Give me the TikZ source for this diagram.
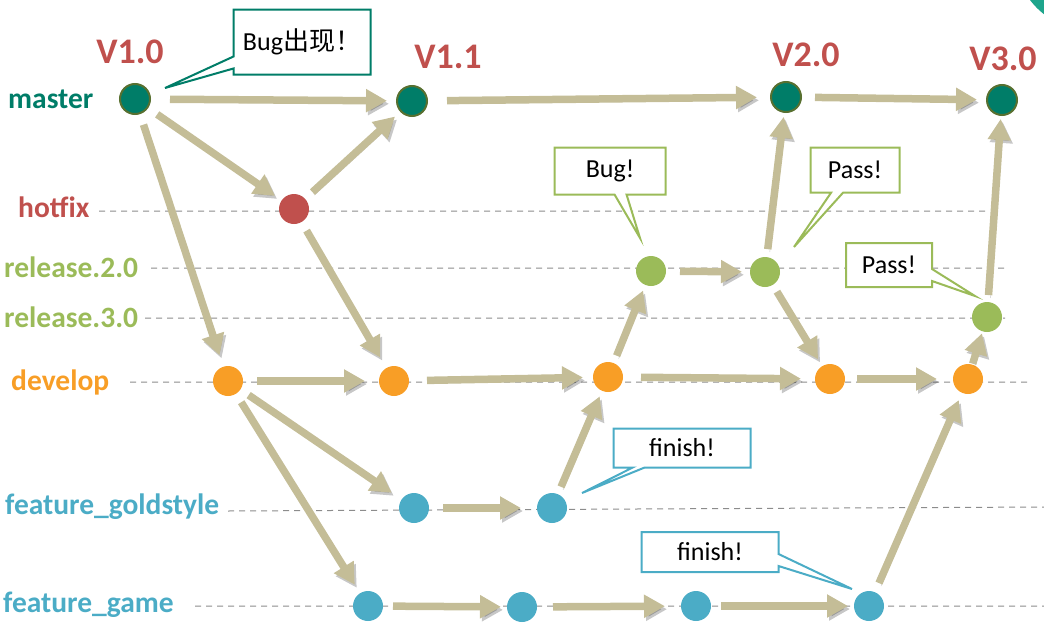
\documentclass[tikz,border=0pt]{standalone}
\usepackage{fontspec}
\setmainfont{Carlito}
\newfontfamily\cjkfont{Noto Sans CJK SC}
\usetikzlibrary{arrows.meta,shapes.callouts}

\definecolor{mastercol}{RGB}{0,125,104}
\definecolor{masterring}{RGB}{88,112,48}
\definecolor{hotfixcol}{RGB}{192,80,77}
\definecolor{releasecol}{RGB}{155,187,89}
\definecolor{developcol}{RGB}{248,158,38}
\definecolor{featurecol}{RGB}{75,172,198}
\definecolor{flowcol}{RGB}{196,189,151}
\definecolor{cornercol}{RGB}{30,165,140}

\tikzset{
    commit/.style = {circle, minimum size = 30pt, inner sep = 0pt, outer sep = 0pt},
    flow/.style = {line width = 7.5pt, draw = flowcol,
        -{Triangle[length = 21pt, width = 22pt]},
        shorten <= 14pt, shorten >= 10pt,
        preaction = {draw = black, opacity = 0.22,
            transform canvas = {shift = {(2, 3)}}}},
    branch/.style = {anchor = base west, inner sep = 0pt,
        font = \bfseries\fontsize{29.5}{31}\selectfont},
    version/.style = {inner sep = 0pt, text = hotfixcol,
        font = \bfseries\fontsize{36}{38}\selectfont},
    guide/.style = {draw = black!45, line width = 1pt, dash pattern = on 6pt off 5pt},
    note/.style = {rectangle callout, draw = #1, line width = 2pt, fill = white,
        inner sep = 0pt, callout pointer width = 12pt,
        font = \fontsize{26}{28}\selectfont}
}

\begin{document}
\begin{tikzpicture}[x = 1pt, y = -1pt]
    \useasboundingbox (0, 0) rectangle (1044, 637);
    \clip (0, 0) rectangle (1044, 637);
    \fill [cornercol] (1090, -45) circle (75);

    % lanes
    \draw [guide]
        (99, 211) -- (988, 211)
        (151, 268) -- (1008, 268)
        (145, 318) -- (1005, 318)
        (130, 382) -- (1027, 382)
        (228, 511) -- (1044, 507)
        (195, 606) -- (1044, 606)
    ;
    \node [branch, text = mastercol] (lmaster) at (8, 108) {master};
    \node [branch, text = hotfixcol] (lhotfix) at (18, 217) {hotfix};
    \node [branch, text = releasecol] (lrelA) at (4, 277) {release.2.0};
    \node [branch, text = releasecol] (lrelB) at (4, 327) {release.3.0};
    \node [branch, text = developcol] (ldevelop) at (11, 390) {develop};
    \node [branch, text = featurecol] (lgold) at (5, 514) {feature\_goldstyle};
    \node [branch, text = featurecol] (lgame) at (3, 612) {feature\_game};

    % commits
    \node [commit, fill = mastercol, draw = masterring, line width = 2pt] (m1) at (135, 99) {};
    \node [commit, fill = mastercol, draw = masterring, line width = 2pt] (m2) at (412, 101) {};
    \node [commit, fill = mastercol, draw = masterring, line width = 2pt] (m3) at (786, 97) {};
    \node [commit, fill = mastercol, draw = masterring, line width = 2pt] (m4) at (1002, 100) {};
    \node [commit, fill = hotfixcol] (h1) at (294, 209) {};
    \node [commit, fill = releasecol] (r1) at (651, 271) {};
    \node [commit, fill = releasecol] (r2) at (765, 272) {};
    \node [commit, fill = releasecol] (r3) at (987, 317) {};
    \node [commit, fill = developcol] (d1) at (228, 381) {};
    \node [commit, fill = developcol] (d2) at (394, 381) {};
    \node [commit, fill = developcol] (d3) at (608, 377) {};
    \node [commit, fill = developcol] (d4) at (830, 379) {};
    \node [commit, fill = developcol] (d5) at (968, 379) {};
    \node [commit, fill = featurecol] (g1) at (414, 508) {};
    \node [commit, fill = featurecol] (g2) at (552, 508) {};
    \node [commit, fill = featurecol] (f1) at (368, 606) {};
    \node [commit, fill = featurecol] (f2) at (522, 607) {};
    \node [commit, fill = featurecol] (f3) at (696, 606) {};
    \node [commit, fill = featurecol] (f4) at (869, 606) {};

    \node [version] (v10) at (130, 52) {V1.0};
    \node [version] (v11) at (448, 57) {V1.1};
    \node [version] (v20) at (806, 55) {V2.0};
    \node [version] (v30) at (1003, 59) {V3.0};

    % merges
    \draw [flow, shorten <= 20pt] (m1) -- (m2);
    \draw [flow, shorten <= 20pt, shorten >= 14pt] (m2) -- (m3);
    \draw [flow] (m3) -- (m4);
    \draw [flow, shorten <= 12pt, shorten >= 8pt] (m1) -- (h1);
    \draw [flow, shorten <= 10pt, shorten >= 8pt] (h1) -- (m2);
    \draw [flow, shorten <= 12pt, shorten >= 12pt] (m1) -- (d1);
    \draw [flow, shorten <= 10pt, shorten >= 12pt] (h1) -- (d2);
    \draw [flow, shorten >= 14pt] (d1) -- (d2);
    \draw [flow, shorten <= 18pt] (d2) -- (d3);
    \draw [flow, shorten <= 8pt, shorten >= 6pt] (d3) -- (r1);
    \draw [flow, shorten <= 14pt, shorten >= 8pt] (r1) -- (r2);
    \draw [flow, shorten <= 8pt, shorten >= 5pt] (r2) -- (m3);
    \draw [flow, shorten <= 8pt, shorten >= 8pt] (r2) -- (d4);
    \draw [flow, shorten <= 18pt, shorten >= 14pt] (d3) -- (d4);
    \draw [flow, shorten <= 12pt, shorten >= 16pt] (d4) -- (d5);
    \draw [flow, shorten <= 1pt, shorten >= 2pt] (d5) -- (r3);
    \draw [flow, shorten <= 7pt, shorten >= 4pt] (r3) -- (m4);
    \draw [flow, shorten <= 10pt, shorten >= 12pt] (d1) -- (g1);
    \draw [flow, shorten <= 10pt, shorten >= 10pt] (d1) -- (f1);
    \draw [flow, shorten <= 14pt, shorten >= 16pt] (g1) -- (g2);
    \draw [flow, shorten <= 8pt, shorten >= 6pt] (g2) -- (d3);
    \draw [flow, shorten <= 10pt, shorten >= 6pt] (f1) -- (f2);
    \draw [flow, shorten <= 16pt, shorten >= 16pt] (f2) -- (f3);
    \draw [flow, shorten <= 10pt, shorten >= 6pt] (f3) -- (f4);
    \draw [flow, shorten <= 10pt, shorten >= 8pt] (f4) -- (d5);

    % notes
    \node [note = mastercol, minimum width = 137pt, minimum height = 65pt,
        callout absolute pointer = {(165, 88)}] (nbug) at (302, 42) {Bug{\cjkfont 出现！}};
    \node [note = releasecol, minimum width = 111pt, minimum height = 47pt,
        callout absolute pointer = {(640, 238)}] (nrelbug) at (610, 171) {Bug!};
    \node [note = releasecol, minimum width = 89pt, minimum height = 45pt,
        callout absolute pointer = {(794, 247)}] (npassA) at (855, 170) {Pass!};
    \node [note = releasecol, minimum width = 86pt, minimum height = 44pt,
        callout absolute pointer = {(975, 296)}] (npassB) at (889, 265) {Pass!};
    \node [note = featurecol, minimum width = 137pt, minimum height = 39pt,
        callout absolute pointer = {(582, 493)}] (nfinA) at (682, 448) {finish!};
    \node [note = featurecol, minimum width = 137pt, minimum height = 40pt,
        callout absolute pointer = {(852, 589)}] (nfinB) at (710, 552) {finish!};
\end{tikzpicture}
\end{document}
